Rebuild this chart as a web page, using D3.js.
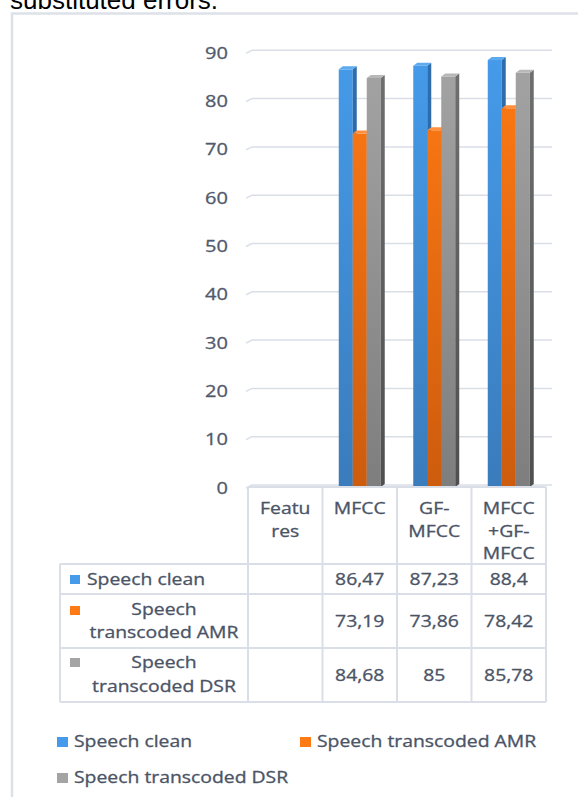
<!DOCTYPE html>
<html>
<head>
<meta charset="utf-8">
<script src="https://cdn.jsdelivr.net/npm/d3@7"></script>
<style>
  html, body { margin: 0; padding: 0; background: #fff; }
  svg { display: block; }
</style>
</head>
<body>
<svg id="chart" width="578" height="797"></svg>
<script>
// Feature sets (the first column is the table's header cell and has no bars)
const categories = ["Features", "MFCC", "GF-MFCC", "MFCC +GF-MFCC"];
const categoryLines = [["Featu", "res"], ["MFCC"], ["GF-", "MFCC"], ["MFCC", "+GF-", "MFCC"]];
const seriesNames = ["Speech clean", "Speech transcoded AMR", "Speech transcoded DSR"];
const seriesLines = [["Speech clean"], ["Speech", "transcoded AMR"], ["Speech", "transcoded DSR"]];
const speechClean = [null, 86.47, 87.23, 88.4];
const transcodedAMR = [null, 73.19, 73.86, 78.42];
const transcodedDSR = [null, 84.68, 85, 85.78];
const yTicks = [0, 10, 20, 30, 40, 50, 60, 70, 80, 90];

const seriesValues = [speechClean, transcodedAMR, transcodedDSR];

const svg = d3.select("#chart");
const FONT = "'Open Sans', 'DejaVu Sans', sans-serif";
const TEXT = "#4b5466";
const GRID = "#dadee6";
const SX = 1.25; // horizontal stretch of chart lettering

// text helper: draws a string stretched horizontally around its anchor
function label(g, x, y, str, anchor, size, fill) {
  const c = fill || TEXT;
  return g.append("text")
    .attr("transform", `translate(${x},${y}) scale(${SX},1)`)
    .attr("text-anchor", anchor || "start")
    .attr("font-family", FONT)
    .attr("font-size", size || 15.5)
    .attr("fill", c)
    .attr("stroke", c).attr("stroke-width", 0.3)
    .text(str);
}

const fmt = v => String(v).replace(".", ",");

// caption line above the chart frame
svg.append("text")
  .attr("x", 10).attr("y", 9)
  .attr("font-family", "'Liberation Sans', Arial, sans-serif")
  .attr("font-size", 26)
  .attr("fill", "#000")
  .text("substituted errors.");

// chart frame
svg.append("rect")
  .attr("x", 12).attr("y", 13.5)
  .attr("width", 620).attr("height", 820)
  .attr("fill", "#fff")
  .attr("stroke", "#dde1e8").attr("stroke-width", 2.5);

// scales
const x = d3.scaleBand().domain(categories).range([248, 546]).padding(0);
const groupW = 42;
const xs = d3.scaleBand().domain(seriesNames).range([0, groupW]).padding(0);
const y = d3.scaleLinear().domain([0, 90]).range([487, 52.3]);
const DX = 4, DY = 3;      // bar depth
const BACK = 2;            // back wall lift of the gridlines

// gradients
const defs = svg.append("defs");
const palette = [
  { front: ["#459bea", "#3a7cbc"], side: ["#2f6eae", "#28578a"], top: "#5eaaee" },
  { front: ["#ff7a14", "#cd5c0e"], side: ["#c65c10", "#9c4709"], top: "#ff9040" },
  { front: ["#a4a4a4", "#7e7e7e"], side: ["#707070", "#4f4f4f"], top: "#b8b8b8" }
];
palette.forEach((p, i) => {
  ["front", "side"].forEach(face => {
    const gr = defs.append("linearGradient")
      .attr("id", `g${i}${face}`)
      .attr("gradientUnits", "userSpaceOnUse")
      .attr("x1", 0).attr("x2", 0)
      .attr("y1", y(90)).attr("y2", y(0));
    gr.append("stop").attr("offset", 0).attr("stop-color", p[face][0]);
    gr.append("stop").attr("offset", 1).attr("stop-color", p[face][1]);
  });
});

// gridlines on the back wall
const grid = svg.append("g");
yTicks.forEach(t => {
  const yb = y(t) - BACK;
  grid.append("path")
    .attr("d", `M246,${yb + 3}L252,${yb}L552,${yb}`)
    .attr("fill", "none")
    .attr("stroke", GRID).attr("stroke-width", 1.5);
});

// y-axis tick labels
const axisG = svg.append("g");
yTicks.forEach(t => {
  label(axisG, 228, y(t) + 6.5, String(t), "end", 16, "#515a6c");
});

// bars with a small 3D depth (front, side, top faces)
const bars = svg.append("g");
categories.forEach((c, ci) => {
  const gx = x(c) + (x.bandwidth() - groupW) / 2;
  seriesNames.forEach((s, si) => {
    const v = seriesValues[si][ci];
    if (v == null) return;
    const x0 = gx + xs(s), w = xs.bandwidth();
    const yt = y(v), yb = y(0);
    const b = bars.append("g");
    b.append("rect")
      .attr("x", x0).attr("y", yt)
      .attr("width", w).attr("height", yb - yt)
      .attr("fill", `url(#g${si}front)`);
    b.append("path")
      .attr("d", `M${x0 + w},${yt}L${x0 + w + DX},${yt - DY}L${x0 + w + DX},${yb - DY}L${x0 + w},${yb}Z`)
      .attr("fill", `url(#g${si}side)`);
    b.append("path")
      .attr("d", `M${x0},${yt}L${x0 + DX},${yt - DY}L${x0 + w + DX},${yt - DY}L${x0 + w},${yt}Z`)
      .attr("fill", palette[si].top);
  });
});

// data table under the plot
const table = svg.append("g");
const rowEdges = [487, 564, 594, 648, 702];
const tLeft = 60, tRight = 546;
const line = (x1, y1, x2, y2) => table.append("line")
  .attr("x1", x1).attr("y1", y1).attr("x2", x2).attr("y2", y2)
  .attr("stroke", GRID).attr("stroke-width", 2);

line(248, rowEdges[0], tRight, rowEdges[0]);
rowEdges.slice(1).forEach(r => line(tLeft, r, tRight, r));
line(tLeft, rowEdges[1], tLeft, rowEdges[4]);
categories.forEach(c => line(x(c), rowEdges[0], x(c), rowEdges[4]));
line(tRight, rowEdges[0], tRight, rowEdges[4]);

// header cells
const headerBase = [514, 536.5, 559];
categories.forEach((c, ci) => {
  categoryLines[ci].forEach((ln, li) => {
    label(table, x(c) + x.bandwidth() / 2, headerBase[li], ln, "middle");
  });
});

// row labels with legend keys
const rowKeyY = [575, 606, 658];
const rowTextBase = [[585], [615, 637.5], [668, 691.5]];
const rowValueBase = [585, 627, 680.5];
seriesNames.forEach((s, si) => {
  table.append("rect")
    .attr("x", 70).attr("y", rowKeyY[si])
    .attr("width", 10).attr("height", 9)
    .attr("fill", palette[si].front[0]);
  if (seriesLines[si].length === 1) {
    label(table, 87, rowTextBase[si][0], seriesLines[si][0], "start");
  } else {
    seriesLines[si].forEach((ln, li) => {
      label(table, 164, rowTextBase[si][li], ln, "middle");
    });
  }
  categories.forEach((c, ci) => {
    const v = seriesValues[si][ci];
    if (v == null) return;
    label(table, x(c) + x.bandwidth() / 2, rowValueBase[si], fmt(v), "middle");
  });
});

// legend below the table
const legend = svg.append("g");
const legendPos = [[57, 747], [300, 747], [57, 783]];
seriesNames.forEach((s, si) => {
  const [lx, ly] = legendPos[si];
  legend.append("rect")
    .attr("x", lx).attr("y", ly - 10)
    .attr("width", 11).attr("height", 10)
    .attr("fill", palette[si].front[0]);
  label(legend, lx + 17, ly, s, "start");
});
</script>
</body>
</html>
